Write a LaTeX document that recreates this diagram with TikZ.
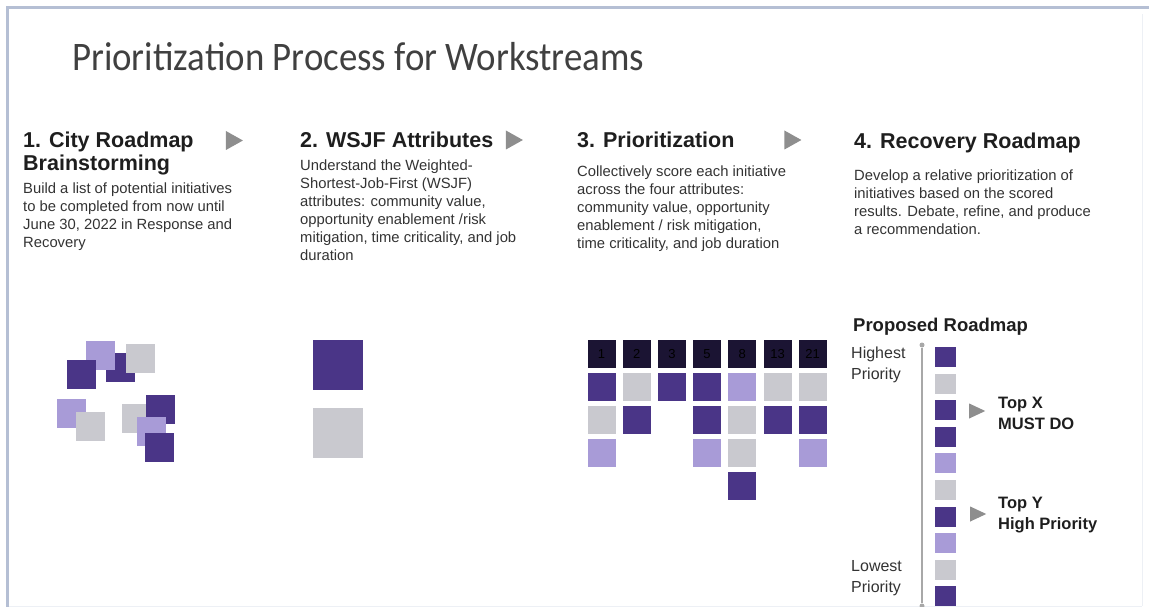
\documentclass[tikz,border=0pt]{standalone}
\usepackage{fontspec}
\setmainfont{Liberation Sans}
\newfontfamily\titlefont[FakeStretch=0.91]{Carlito}
\usetikzlibrary{shapes.geometric}

\definecolor{dkpurple}{HTML}{4A3587}
\definecolor{ltpurple}{HTML}{A89BD7}
\definecolor{ltgrey}{HTML}{C9C9CF}
\definecolor{navy}{HTML}{1B1433}
\definecolor{arrowgrey}{HTML}{8E8E8E}
\definecolor{linegrey}{HTML}{A8A8A8}
\definecolor{bodytext}{HTML}{333333}
\definecolor{headtext}{HTML}{1E1E1E}
\definecolor{framecol}{HTML}{B5BFD4}
\definecolor{framefaint}{HTML}{EDF0F5}

\begin{document}
\begin{tikzpicture}[x=1pt, y=-1pt, node distance={33pt},
  sq/.style = {minimum size=28pt, inner sep=0pt},
  scat/.style = {minimum size=29pt, inner sep=0pt},
  bigsq/.style = {minimum size=50pt, inner sep=0pt},
  tinysq/.style = {minimum width=21pt, minimum height=20pt, inner sep=0pt},
  tri/.style = {isosceles triangle, isosceles triangle stretches, fill=arrowgrey, inner sep=0pt, minimum width=19pt, minimum height=17pt},
  smalltri/.style = {tri, minimum width=15pt, minimum height=16pt},
  dot/.style = {circle, fill=linegrey, inner sep=0pt, minimum size=5pt},
  head/.style = {anchor=base west, inner sep=0pt, font=\fontsize{21.5}{23}\selectfont\bfseries, text=headtext},
  body/.style = {anchor=north west, inner sep=0pt, align=left, font=\fontsize{14.8}{18}\selectfont, text=bodytext},
  label/.style = {anchor=north west, inner sep=0pt, align=left, font=\fontsize{16}{21}\selectfont, text=bodytext},
  callout/.style = {anchor=north west, inner sep=0pt, align=left, font=\fontsize{16.5}{20.5}\selectfont\bfseries, text=headtext},
  num/.style = {font=\fontsize{13}{13}\selectfont, text=black}]
\useasboundingbox (0,0) rectangle (1149,607);

% frame
\coordinate (ftl) at (7,8);
\coordinate (fbl) at (7,607);
\coordinate (ftr) at (1149,8);
\coordinate (fr1) at (1142,14);
\coordinate (fr2) at (1142,606);
\coordinate (fb1) at (9,606);
\draw[framefaint, line width=1pt] (fr1) -- (fr2) (fb1) -- (fr2);
\draw[framecol, line width=3pt] (fbl) -- (ftl) -- (ftr);

% title
\node[anchor=base west, inner sep=0pt, font=\titlefont\fontsize{40.5}{41}\selectfont, text=headtext!85] (title) at (72,71) {Prioritization Process for Workstreams};

% step headings
\node[anchor=north west, inner sep=0pt, align=left, font=\fontsize{21.5}{23}\selectfont\bfseries, text=headtext] (h1txt) at (23,132) {1. City Roadmap\\Brainstorming};
\node[head] (h2txt) at (300,148) {2. WSJF Attributes};
\node[head] (h3txt) at (577,148) {3. Prioritization};
\node[head] (h4txt) at (854,149) {4. Recovery Roadmap};

\node[tri] (arr1) at (231.5,140.5) {};
\node[tri] (arr2) at (511.5,140) {};
\node[tri] (arr3) at (790,140) {};

% step texts
\node[body] (b1txt) at (23,183) {Build a list of potential initiatives\\to be completed from now until\\June 30, 2022 in Response and\\Recovery};
\node[body] (b2txt) at (300,160) {Understand the Weighted-\\Shortest-Job-First (WSJF)\\attributes: community value,\\opportunity enablement /risk\\mitigation, time criticality, and job\\duration};
\node[body] (b3txt) at (577,166) {Collectively score each initiative\\across the four attributes:\\community value, opportunity\\enablement / risk mitigation,\\time criticality, and job duration};
\node[body] (b4txt) at (854,170) {Develop a relative prioritization of\\initiatives based on the scored\\results. Debate, refine, and produce\\a recommendation.};

% brainstorm squares
\node[scat, fill=dkpurple] (s1) at (120.4,367.5) {};
\node[scat, fill=ltpurple] (s2) at (100.2,355) {};
\node[scat, fill=ltgrey] (s3) at (140.2,358.5) {};
\node[scat, fill=dkpurple] (s4) at (81.8,374.5) {};
\node[scat, fill=ltpurple] (s5) at (71.2,413.5) {};
\node[scat, fill=ltgrey] (s6) at (90.5,426.5) {};
\node[scat, fill=ltgrey] (s7) at (136.2,418.5) {};
\node[scat, fill=dkpurple] (s8) at (160.5,409.5) {};
\node[scat, fill=ltpurple] (s9) at (151.2,431.5) {};
\node[scat, fill=dkpurple] (s10) at (159.5,447.5) {};

% wsjf squares
\node[bigsq, fill=dkpurple] (w1) at (338,365) {};
\node[bigsq, fill=ltgrey, below of=w1, node distance=68pt] (w2) {};

% scoring grid
\node[sq, fill=navy, num] (g1) at (601.5,354) {1};
\node[sq, fill=navy, num, right of=g1, node distance=35.2pt] (g2) {2};
\node[sq, fill=navy, num, right of=g2, node distance=35.2pt] (g3) {3};
\node[sq, fill=navy, num, right of=g3, node distance=35.2pt] (g5) {5};
\node[sq, fill=navy, num, right of=g5, node distance=35.2pt] (g8) {8};
\node[sq, fill=navy, num, right of=g8, node distance=35.2pt] (g13) {13};
\node[sq, fill=navy, num, right of=g13, node distance=35.2pt] (g21) {21};

\node[sq, fill=dkpurple, below of=g1] (a1) {};
\node[sq, fill=ltgrey, below of=a1] (b1) {};
\node[sq, fill=ltpurple, below of=b1] (c1) {};

\node[sq, fill=ltgrey, below of=g2] (a2) {};
\node[sq, fill=dkpurple, below of=a2] (b2) {};

\node[sq, fill=dkpurple, below of=g3] (a3) {};

\node[sq, fill=dkpurple, below of=g5] (a5) {};
\node[sq, fill=dkpurple, below of=a5] (b5) {};
\node[sq, fill=ltpurple, below of=b5] (c5) {};

\node[sq, fill=ltpurple, below of=g8] (a8) {};
\node[sq, fill=ltgrey, below of=a8] (b8) {};
\node[sq, fill=ltgrey, below of=b8] (c8) {};
\node[sq, fill=dkpurple, below of=c8] (d8) {};

\node[sq, fill=ltgrey, below of=g13] (a13) {};
\node[sq, fill=dkpurple, below of=a13] (b13) {};

\node[sq, fill=ltgrey, below of=g21] (a21) {};
\node[sq, fill=dkpurple, below of=a21] (b21) {};
\node[sq, fill=ltpurple, below of=b21] (c21) {};

% proposed roadmap
\node[anchor=base west, inner sep=0pt, font=\fontsize{18.5}{20}\selectfont\bfseries, text=headtext] (prop) at (853,331.5) {Proposed Roadmap};
\node[label] (high) at (851,347) {Highest\\Priority};
\node[label] (low) at (851,560.5) {Lowest\\Priority};

\node[dot] (rtop) at (922,345) {};
\node[dot] (rbot) at (922,606) {};
\draw[linegrey, line width=2pt] (rtop) -- (rbot);

\node[tinysq, fill=dkpurple] (r1) at (945.5,357) {};
\node[tinysq, fill=ltgrey, below of=r1, node distance=26.6pt] (r2) {};
\node[tinysq, fill=dkpurple, below of=r2, node distance=26.6pt] (r3) {};
\node[tinysq, fill=dkpurple, below of=r3, node distance=26.6pt] (r4) {};
\node[tinysq, fill=ltpurple, below of=r4, node distance=26.6pt] (r5) {};
\node[tinysq, fill=ltgrey, below of=r5, node distance=26.6pt] (r6) {};
\node[tinysq, fill=dkpurple, below of=r6, node distance=26.6pt] (r7) {};
\node[tinysq, fill=ltpurple, below of=r7, node distance=26.6pt] (r8) {};
\node[tinysq, fill=ltgrey, below of=r8, node distance=26.6pt] (r9) {};
\node[tinysq, fill=dkpurple, below of=r9, node distance=26.6pt] (r10) {};

\node[smalltri] (t1) at (974,411) {};
\node[smalltri] (t2) at (975,514) {};
\node[callout] (topx) at (998,397) {Top X\\MUST DO};
\node[callout] (topy) at (998,497) {Top Y\\High Priority};
\end{tikzpicture}
\end{document}
